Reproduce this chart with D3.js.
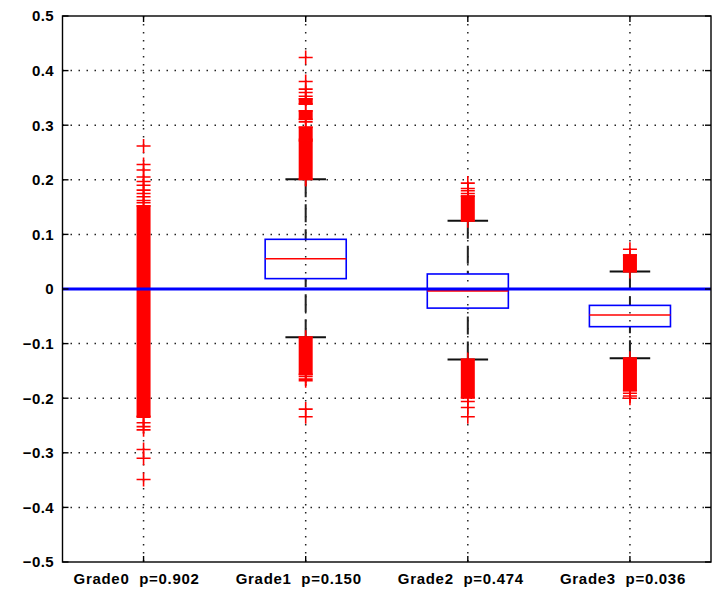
<!DOCTYPE html>
<html>
<head>
<meta charset="utf-8">
<script src="https://cdn.jsdelivr.net/npm/d3@7/dist/d3.min.js"></script>
<style>
  html, body { margin: 0; padding: 0; background: #fff; }
  svg { display: block; }
  text { font-family: "Liberation Sans", Arial, sans-serif; font-weight: bold; white-space: pre; }
</style>
</head>
<body>
<svg id="chart" width="718" height="590"></svg>
<script>
// ---------------- data ----------------
const categories = ["Grade0", "Grade1", "Grade2", "Grade3"];
const pValues    = ["0.902", "0.150", "0.474", "0.036"];

const q1Values      = [0,  0.019, -0.035, -0.069];
const medianValues  = [0,  0.0555, -0.0035, -0.0476];
const q3Values      = [0,  0.091,  0.0275, -0.030];
const whiskerLow    = [0, -0.0885, -0.129, -0.127];
const whiskerHigh   = [0,  0.201,  0.125,  0.032];

// individually visible outlier markers ('+')
const outliersGrade0 = [0.262, 0.228, 0.218, 0.205, 0.197, 0.19, 0.181, 0.175, 0.169, 0.162, 0.158,
                        -0.235, -0.245, -0.252, -0.258, -0.294, -0.31, -0.349];
const outliersGrade1 = [0.424, 0.38, 0.366, 0.36, 0.353, 0.306, 0.201,
                        -0.16, -0.165, -0.168, -0.22, -0.234];
const outliersGrade2 = [0.194, 0.184, 0.18, 0.175, -0.206, -0.217, -0.234];
const outliersGrade3 = [0.0727, -0.191, -0.196, -0.2];

// ranges where the outlier markers overlap into a solid column [low, high]
const bandsGrade0 = [[-0.233, 0.152]];
const bandsGrade1 = [[0.339, 0.348], [0.311, 0.326], [0.274, 0.296], [0.201, 0.271], [-0.156, -0.0885]];
const bandsGrade2 = [[0.125, 0.17], [-0.199, -0.129]];
const bandsGrade3 = [[0.032, 0.062], [-0.186, -0.127]];

const yTicks = [-0.5, -0.4, -0.3, -0.2, -0.1, 0, 0.1, 0.2, 0.3, 0.4, 0.5];

const outlierSets = [outliersGrade0, outliersGrade1, outliersGrade2, outliersGrade3];
const bandSets    = [bandsGrade0, bandsGrade1, bandsGrade2, bandsGrade3];

// ---------------- layout ----------------
const L = 62.5, R = 711, T = 16, B = 562;
const svg = d3.select("#chart");

const x = d3.scaleLinear().domain([0.5, 4.5]).range([L, R]);
const y = d3.scaleLinear().domain([-0.5, 0.5]).range([B, T]);
const xc = i => x(i + 1);

const boxHalf = (x(1.25) - x(1));    // half box width = 0.25 units
const capHalf = (x(1.125) - x(1));   // half cap width
const markHalf = 7;

// ---------------- grid ----------------
const grid = svg.append("g").attr("stroke", "#222").attr("stroke-width", 1.5)
  .attr("stroke-dasharray", "1.5,6.5");
grid.selectAll("line.h").data(yTicks.filter(t => t > -0.5 && t < 0.5)).join("line")
  .attr("x1", L).attr("x2", R)
  .attr("y1", d => y(d)).attr("y2", d => y(d));
grid.selectAll("line.v").data(categories).join("line")
  .attr("x1", (d, i) => xc(i)).attr("x2", (d, i) => xc(i))
  .attr("y1", T).attr("y2", B);

// ---------------- boxes ----------------
const g = svg.append("g");
categories.forEach((c, i) => {
  const cx = xc(i);
  // whiskers (dashed)
  g.append("line").attr("x1", cx).attr("x2", cx)
    .attr("y1", y(whiskerHigh[i])).attr("y2", y(q3Values[i]))
    .attr("stroke", "#222").attr("stroke-width", 2).attr("stroke-dasharray", "18,7");
  g.append("line").attr("x1", cx).attr("x2", cx)
    .attr("y1", y(whiskerLow[i])).attr("y2", y(q1Values[i]))
    .attr("stroke", "#222").attr("stroke-width", 2).attr("stroke-dasharray", "18,7");
  // caps
  [whiskerHigh[i], whiskerLow[i]].forEach(v => {
    g.append("line").attr("x1", cx - capHalf).attr("x2", cx + capHalf)
      .attr("y1", y(v)).attr("y2", y(v)).attr("stroke", "#111").attr("stroke-width", 2);
  });
  // box
  g.append("rect").attr("x", cx - boxHalf).attr("width", 2 * boxHalf)
    .attr("y", y(q3Values[i])).attr("height", Math.max(0, y(q1Values[i]) - y(q3Values[i])))
    .attr("fill", "none").attr("stroke", "#0000ff").attr("stroke-width", 1.6);
  // median
  g.append("line").attr("x1", cx - boxHalf).attr("x2", cx + boxHalf)
    .attr("y1", y(medianValues[i])).attr("y2", y(medianValues[i]))
    .attr("stroke", "#ff0000").attr("stroke-width", 1.6);

  // outlier bands
  bandSets[i].forEach(b => {
    g.append("rect").attr("x", cx - markHalf).attr("width", 2 * markHalf)
      .attr("y", y(b[1]) - 1).attr("height", y(b[0]) - y(b[1]) + 2)
      .attr("fill", "#ff0000");
    b.forEach(v => {
      g.append("path").attr("d", `M${cx - markHalf},${y(v)}H${cx + markHalf}M${cx},${y(v) - markHalf}V${y(v) + markHalf}`)
        .attr("stroke", "#ff0000").attr("stroke-width", 1.6).attr("fill", "none");
    });
  });
  // individual outliers
  g.selectAll(null).data(outlierSets[i]).join("path")
    .attr("d", v => `M${cx - markHalf},${y(v)}H${cx + markHalf}M${cx},${y(v) - markHalf}V${y(v) + markHalf}`)
    .attr("stroke", "#ff0000").attr("stroke-width", 1.6).attr("fill", "none");
});

// ---------------- zero line ----------------
svg.append("line").attr("x1", L).attr("x2", R).attr("y1", y(0)).attr("y2", y(0))
  .attr("stroke", "#0000ff").attr("stroke-width", 3.2);

// ---------------- axes frame & ticks ----------------
const ax = svg.append("g").attr("stroke", "#000").attr("stroke-width", 1.4).attr("fill", "none");
ax.append("rect").attr("x", L).attr("y", T).attr("width", R - L).attr("height", B - T);
yTicks.forEach(t => {
  const yy = y(t);
  ax.append("line").attr("x1", L).attr("x2", L + 6).attr("y1", yy).attr("y2", yy);
  ax.append("line").attr("x1", R - 6).attr("x2", R).attr("y1", yy).attr("y2", yy);
});
categories.forEach((c, i) => {
  const xx = xc(i);
  ax.append("line").attr("x1", xx).attr("x2", xx).attr("y1", B).attr("y2", B - 6);
  ax.append("line").attr("x1", xx).attr("x2", xx).attr("y1", T).attr("y2", T + 6);
});

// y tick labels
svg.append("g").selectAll("text").data(yTicks).join("text")
  .attr("x", 54).attr("y", d => y(d)).attr("dy", "0.36em")
  .attr("text-anchor", "end").attr("font-size", 15).attr("letter-spacing", 0.4)
  .attr("fill", "#000")
  .text(d => d === 0 ? "0" : d3.format(".1f")(d));

// x tick labels
svg.append("g").selectAll("text").data(categories).join("text")
  .attr("x", (d, i) => xc(i) - 7).attr("y", 584)
  .attr("text-anchor", "middle").attr("font-size", 15).attr("letter-spacing", 0.7)
  .attr("fill", "#000")
  .text((d, i) => `${d}  p=${pValues[i]}`);
</script>
</body>
</html>
